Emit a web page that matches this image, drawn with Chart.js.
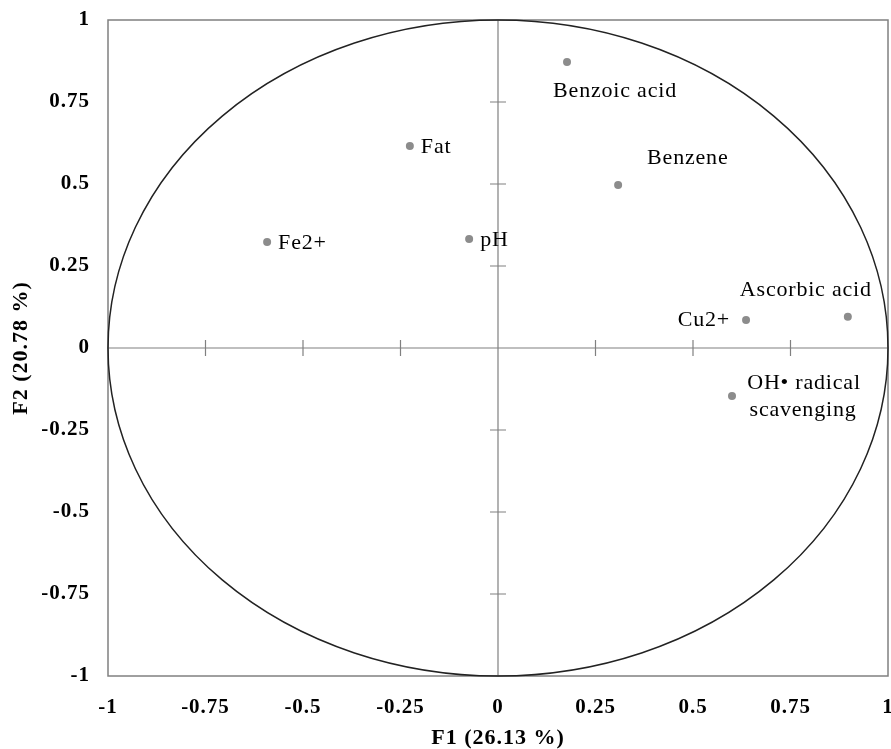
<!DOCTYPE html>
<html>
<head>
<meta charset="utf-8">
<script src="https://cdn.jsdelivr.net/npm/chart.js@4/dist/chart.umd.min.js"></script>
<style>
  html, body { margin: 0; padding: 0; background: #fff; }
  #wrap { width: 891px; height: 749px; }
</style>
</head>
<body>
<div id="wrap"><canvas id="pca"></canvas></div>
<script>
// variables (loadings on F1 / F2)
const names = ["Benzoic acid", "Fat", "Benzene", "Fe2+", "pH", "Cu2+", "Ascorbic acid", "OH\u2022 radical\nscavenging"];
const f1 = [0.177, -0.226, 0.308, -0.592, -0.074, 0.636, 0.897, 0.600];
const f2 = [0.872, 0.616, 0.497, 0.323, 0.332, 0.085, 0.095, -0.146];
const tickValues = [-1, -0.75, -0.5, -0.25, 0, 0.25, 0.5, 0.75, 1];
const tickLabels = ["-1", "-0.75", "-0.5", "-0.25", "0", "0.25", "0.5", "0.75", "1"];
const xTitle = "F1 (26.13 %)";
const yTitle = "F2 (20.78 %)";

// where each label sits relative to its point
const labelPlace = ["below", "right", "aboveRight", "right", "right", "left", "aboveLeft", "rightTwo"];

const SERIF = "'Liberation Serif', 'DejaVu Serif', serif";

const circlePlugin = {
    id: "circleAxes",
    beforeDraw(chart) {
        // the source picture is a bit stretched sideways: widen all text a little
        chart.ctx.letterSpacing = "1px";
    },
    beforeDatasetsDraw(chart) {
        const { ctx, chartArea: a, scales: { x, y } } = chart;
        const x0 = x.getPixelForValue(0);
        const y0 = y.getPixelForValue(0);
        ctx.save();

        // frame
        ctx.strokeStyle = "#808080";
        ctx.lineWidth = 1.5;
        ctx.strokeRect(a.left, a.top, a.right - a.left, a.bottom - a.top);

        // zero axes with cross ticks
        ctx.lineWidth = 1.2;
        ctx.beginPath();
        ctx.moveTo(a.left, y0); ctx.lineTo(a.right, y0);
        ctx.moveTo(x0, a.top); ctx.lineTo(x0, a.bottom);
        tickValues.forEach(v => {
            if (v === -1 || v === 0 || v === 1) return;
            const px = x.getPixelForValue(v);
            ctx.moveTo(px, y0 - 8); ctx.lineTo(px, y0 + 8);
            const py = y.getPixelForValue(v);
            ctx.moveTo(x0 - 8, py); ctx.lineTo(x0 + 8, py);
        });
        ctx.stroke();

        // correlation circle
        const rx = x.getPixelForValue(1) - x0;
        const ry = y0 - y.getPixelForValue(1);
        ctx.strokeStyle = "#222";
        ctx.lineWidth = 1.5;
        ctx.beginPath();
        ctx.ellipse(x0, y0, rx, ry, 0, 0, Math.PI * 2);
        ctx.stroke();
        ctx.restore();
    },
    afterDatasetsDraw(chart) {
        const { ctx, scales: { x, y } } = chart;
        ctx.save();
        ctx.fillStyle = "#000";
        ctx.font = "22px " + SERIF;
        ctx.letterSpacing = "0.8px";
        ctx.textBaseline = "middle";
        names.forEach((n, i) => {
            const px = x.getPixelForValue(f1[i]);
            const py = y.getPixelForValue(f2[i]);
            const lines = n.split("\n");
            switch (labelPlace[i]) {
                case "below":
                    ctx.textAlign = "center";
                    ctx.fillText(lines[0], px + 48, py + 29);
                    break;
                case "right":
                    ctx.textAlign = "left";
                    ctx.fillText(lines[0], px + 11, py + 1);
                    break;
                case "aboveRight":
                    ctx.textAlign = "left";
                    ctx.fillText(lines[0], px + 29, py - 27);
                    break;
                case "left":
                    ctx.textAlign = "right";
                    ctx.fillText(lines[0], px - 16, py);
                    break;
                case "aboveLeft":
                    ctx.textAlign = "right";
                    ctx.fillText(lines[0], px + 24, py - 27);
                    break;
                case "rightTwo":
                    ctx.textAlign = "center";
                    ctx.fillText(lines[0], px + 72, py - 13);
                    ctx.fillText(lines[1], px + 71, py + 14);
                    break;
            }
        });
        ctx.restore();
    }
};

const tickFont = { family: SERIF, size: 21, weight: "bold" };
const titleFont = { family: SERIF, size: 22, weight: "bold" };
const labelFor = v => tickLabels[tickValues.indexOf(v)];

new Chart(document.getElementById("pca"), {
    type: "scatter",
    data: {
        datasets: [{
            data: names.map((n, i) => ({ x: f1[i], y: f2[i] })),
            pointRadius: 4,
            pointHoverRadius: 4,
            pointBackgroundColor: "#8c8c8c",
            pointBorderWidth: 0
        }]
    },
    options: {
        responsive: true,
        maintainAspectRatio: false,
        animation: false,
        layout: { autoPadding: false, padding: { top: 20, right: 3, left: 0, bottom: 0 } },
        plugins: { legend: { display: false }, tooltip: { enabled: false } },
        scales: {
            x: {
                type: "linear",
                min: -1, max: 1,
                afterBuildTicks: s => { s.ticks = tickValues.map(v => ({ value: v })); },
                afterFit: s => { s.height = 73; s.paddingLeft = 0; s.paddingRight = 0; },
                grid: { display: false, drawTicks: false },
                border: { display: false },
                ticks: { color: "#000", font: tickFont, padding: 19, callback: labelFor },
                title: { display: true, text: xTitle, color: "#000", font: titleFont, padding: { top: 0, bottom: -3 } }
            },
            y: {
                type: "linear",
                min: -1, max: 1,
                afterBuildTicks: s => { s.ticks = tickValues.map(v => ({ value: v })); },
                afterFit: s => { s.width = 108; s.paddingTop = 0; s.paddingBottom = 0; },
                grid: { display: false, drawTicks: false },
                border: { display: false },
                ticks: { color: "#000", font: tickFont, padding: 18, callback: labelFor },
                title: { display: true, text: yTitle, color: "#000", font: titleFont, padding: { top: 8, bottom: 0 } }
            }
        }
    },
    plugins: [circlePlugin]
});
</script>
</body>
</html>
